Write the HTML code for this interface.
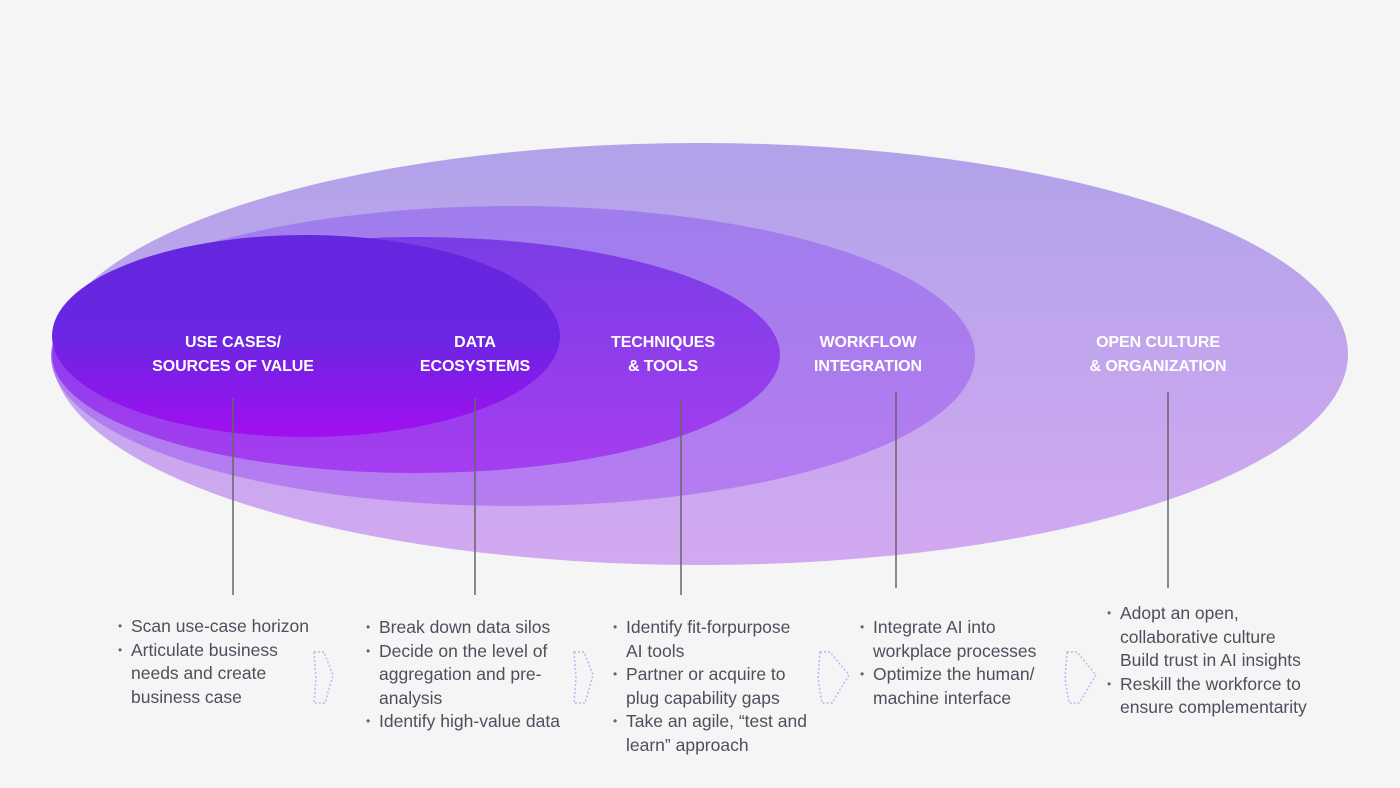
<!DOCTYPE html>
<html><head><meta charset="utf-8"><style>
html,body{margin:0;padding:0;background:#f5f5f5;width:1400px;height:788px;overflow:hidden;position:relative;font-family:"Liberation Sans",sans-serif}
.h{position:absolute;color:#fff;font-weight:bold;font-size:16px;line-height:24px;text-align:center;width:240px;letter-spacing:-0.1px}
.c{position:absolute;color:#524d5c;font-size:17.5px;line-height:23.5px;margin:0;padding:0;list-style:none}
.c li{position:relative;padding-left:13px}
.c li.b:before{content:"•";position:absolute;left:0;font-size:12px;color:#666}
</style></head><body>
<svg width="1400" height="788" style="position:absolute;left:0;top:0">
<defs>
<linearGradient id="g1" x1="0" y1="0" x2="0" y2="1"><stop offset="0" stop-color="#b1a2e9"/><stop offset="1" stop-color="#d2a9f1"/></linearGradient>
<linearGradient id="g2" x1="0" y1="0" x2="0" y2="1"><stop offset="0" stop-color="#9f7ded"/><stop offset="1" stop-color="#b67cf0"/></linearGradient>
<linearGradient id="g3" x1="0" y1="0" x2="0" y2="1"><stop offset="0" stop-color="#7a3de6"/><stop offset="1" stop-color="#a63df0"/></linearGradient>
<linearGradient id="g4" x1="0" y1="0" x2="0" y2="1"><stop offset="0" stop-color="#6426df"/><stop offset="0.5" stop-color="#6a26e2"/><stop offset="1" stop-color="#a10ff0"/></linearGradient>
</defs>
<ellipse cx="700" cy="354" rx="648" ry="211" fill="url(#g1)"/>
<ellipse cx="513" cy="356" rx="462" ry="150" fill="url(#g2)"/>
<ellipse cx="416" cy="355" rx="364" ry="118" fill="url(#g3)"/>
<ellipse cx="306" cy="336" rx="254" ry="101" fill="url(#g4)"/>
<g stroke="#666" stroke-width="1.5">
<line x1="233" y1="398" x2="233" y2="595"/>
<line x1="475" y1="398" x2="475" y2="595"/>
<line x1="681" y1="398" x2="681" y2="595"/>
<line x1="896" y1="392" x2="896" y2="588"/>
<line x1="1168" y1="392" x2="1168" y2="588"/>
</g>
<g fill="none" stroke="#c2b4f2" stroke-width="1.5" stroke-dasharray="2 2">
<path d="M314 652 L324 652 L333 675 L325 703 L314 703 L316 678 Z"/>
<path d="M574 652 L584 652 L593 675 L585 703 L574 703 L576 678 Z"/>
<path d="M820 652 L830 652 L849 675 L832 703 L822 703 L818 678 Z"/>
<path d="M1067 652 L1077 652 L1096 675 L1079 703 L1069 703 L1065 678 Z"/>
</g>
</svg>
<div class="h" style="left:113px;top:331px">USE CASES/<br>SOURCES OF VALUE</div>
<div class="h" style="left:355px;top:331px">DATA<br>ECOSYSTEMS</div>
<div class="h" style="left:543px;top:331px">TECHNIQUES<br>&amp; TOOLS</div>
<div class="h" style="left:748px;top:331px">WORKFLOW<br>INTEGRATION</div>
<div class="h" style="left:1038px;top:331px">OPEN CULTURE<br>&amp; ORGANIZATION</div>
<ul class="c" style="left:118px;top:615px"><li class="b">Scan use-case horizon</li><li class="b">Articulate business<br>needs and create<br>business case</li></ul>
<ul class="c" style="left:366px;top:616px"><li class="b">Break down data silos</li><li class="b">Decide on the level of<br>aggregation and pre-<br>analysis</li><li class="b">Identify high-value data</li></ul>
<ul class="c" style="left:613px;top:616px"><li class="b">Identify fit-forpurpose<br>AI tools</li><li class="b">Partner or acquire to<br>plug capability gaps</li><li class="b">Take an agile, “test and<br>learn” approach</li></ul>
<ul class="c" style="left:860px;top:616px"><li class="b">Integrate AI into<br>workplace processes</li><li class="b">Optimize the human/<br>machine interface</li></ul>
<ul class="c" style="left:1107px;top:602px"><li class="b">Adopt an open,<br>collaborative culture<br>Build trust in AI insights</li><li class="b">Reskill the workforce to<br>ensure complementarity</li></ul>
</body></html>
